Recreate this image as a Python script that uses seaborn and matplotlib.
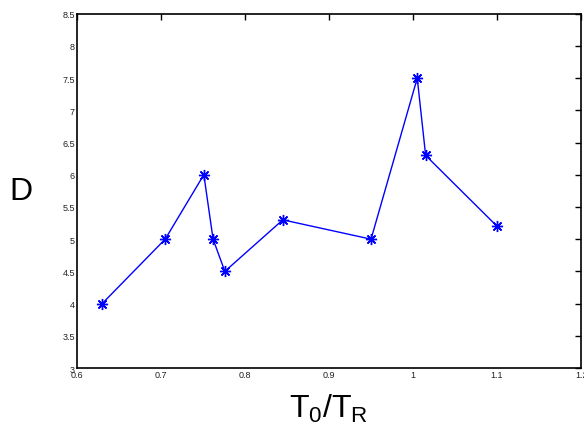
import matplotlib

matplotlib.use("Agg")
import matplotlib.pyplot as plt
import seaborn as sns

# values
t_ratio = [0.63, 0.705, 0.751, 0.762, 0.776, 0.845, 0.95, 1.005, 1.015, 1.10]
d_vals = [4.0, 5.0, 6.0, 5.0, 4.5, 5.3, 5.0, 7.5, 6.3, 5.2]
x_ticks = [0.6, 0.7, 0.8, 0.9, 1.0, 1.1, 1.2]
x_tick_labels = ["0.6", "0.7", "0.8", "0.9", "1", "1.1", "1.2"]
y_ticks = [3, 3.5, 4, 4.5, 5, 5.5, 6, 6.5, 7, 7.5, 8, 8.5]
y_tick_labels = ["3", "3.5", "4", "4.5", "5", "5.5", "6", "6.5", "7", "7.5", "8", "8.5"]

sns.set_style("white")
plt.rcParams["font.family"] = ["Liberation Sans", "DejaVu Sans"]
plt.rcParams["mathtext.fontset"] = "custom"
plt.rcParams["mathtext.rm"] = "Liberation Sans"
plt.rcParams["mathtext.it"] = "Liberation Sans:italic"

fig = plt.figure(figsize=(5.84, 4.27), dpi=100)
ax = fig.add_axes([0.1318, 0.1358, 0.8632, 0.8298])

sns.lineplot(x=t_ratio, y=d_vals, ax=ax, color="#0000ff", linewidth=1.0,
             marker=(8, 2, 0), markersize=8, markeredgewidth=1.0,
             markeredgecolor="#0000ff", sort=False, estimator=None)

ax.set_xlim(0.6, 1.2)
ax.set_ylim(3, 8.5)
ax.set_xticks(x_ticks)
ax.set_xticklabels(x_tick_labels)
ax.set_yticks(y_ticks)
ax.set_yticklabels(y_tick_labels)

ax.tick_params(axis="both", direction="in", length=4, width=1.0,
               labelsize=6.5, labelcolor="#222222", color="black",
               top=True, right=True, pad=1.5)

for spine in ax.spines.values():
    spine.set_color("black")
    spine.set_linewidth(1.2)

ax.set_xlabel("T$_\\mathrm{0}$/T$_\\mathrm{R}$", fontsize=23, labelpad=9, color="black")
ax.set_ylabel("D", fontsize=23, rotation=0, labelpad=30, va="center", color="black")

fig.savefig("out.png", dpi=100)
plt.close(fig)
